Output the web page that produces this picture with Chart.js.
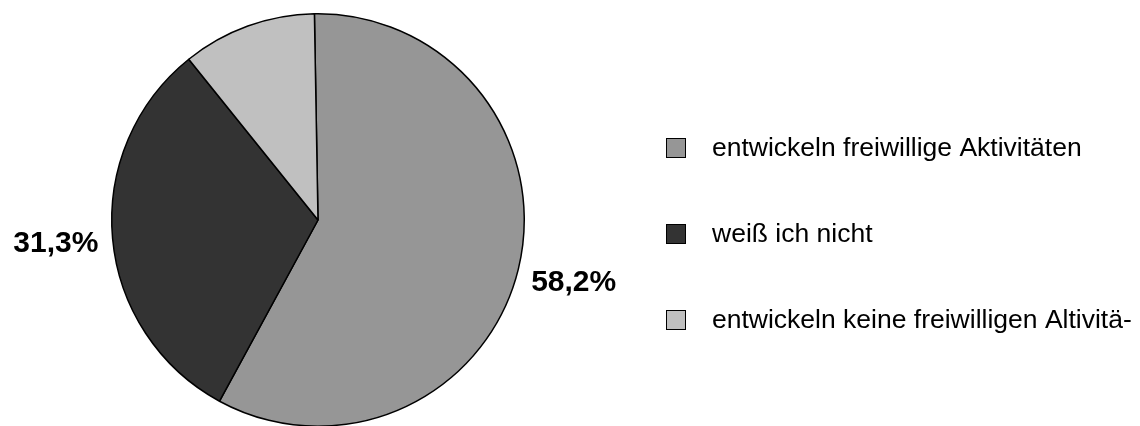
<!DOCTYPE html>
<html lang="de">
<head>
<meta charset="utf-8">
<title>Freiwillige Aktivitäten</title>
<script src="https://cdn.jsdelivr.net/npm/chart.js@4.4.1/dist/chart.umd.min.js"></script>
<style>
    html, body { margin: 0; padding: 0; background: #ffffff; overflow: hidden; }
    #wrap { position: relative; width: 1140px; height: 428px; }
</style>
</head>
<body>
<div id="wrap"><canvas id="pieChart" width="1140" height="428"></canvas></div>
<script>
// Chart data
const categories = ['entwickeln freiwillige Aktivitäten', 'weiß ich nicht', 'entwickeln keine freiwilligen Altivitä-'];
const shares = [58.2, 31.3, 10.5];
const shareLabels = ['58,2%', '31,3%', ''];
const sliceColors = ['#969696', '#333333', '#c0c0c0'];

/**
 * Draw percentage labels outside the slices
 */
const outsideLabels = {
    id: 'outsideLabels',
    afterDatasetsDraw(chart) {
        const ctx = chart.ctx;
        const arcs = chart.getDatasetMeta(0).data;
        ctx.save();
        ctx.font = 'bold 30px "Liberation Sans", Arial, sans-serif';
        ctx.fillStyle = '#000000';
        ctx.textAlign = 'center';
        ctx.textBaseline = 'middle';
        arcs.forEach((arc, i) => {
            if (!shareLabels[i]) return;
            const mid = (arc.startAngle + arc.endAngle) / 2;
            const r = arc.outerRadius + 57;
            ctx.fillText(shareLabels[i], arc.x + Math.cos(mid) * r, arc.y + Math.sin(mid) * r);
        });
        ctx.restore();
    }
};

/**
 * Draw the legend to the right of the pie
 */
const sideLegend = {
    id: 'sideLegend',
    afterDraw(chart) {
        const ctx = chart.ctx;
        const boxX = 666, boxSize = 20, textX = 712;
        const firstY = 148, rowGap = 86;
        ctx.save();
        ctx.font = '26.5px "Liberation Sans", Arial, sans-serif';
        ctx.textBaseline = 'middle';
        categories.forEach((name, i) => {
            const y = firstY + i * rowGap;
            ctx.fillStyle = sliceColors[i];
            ctx.fillRect(boxX, y - boxSize / 2, boxSize, boxSize);
            ctx.strokeStyle = '#000000';
            ctx.lineWidth = 1;
            ctx.strokeRect(boxX + 0.5, y - boxSize / 2 + 0.5, boxSize - 1, boxSize - 1);
            ctx.fillStyle = '#000000';
            ctx.fillText(name, textX, y + 1);
        });
        ctx.restore();
    }
};

document.addEventListener('DOMContentLoaded', function() {
    const ctx = document.getElementById('pieChart').getContext('2d');
    new Chart(ctx, {
        type: 'pie',
        data: {
            labels: categories,
            datasets: [{
                data: shares,
                backgroundColor: sliceColors,
                borderColor: '#000000',
                borderWidth: 1.5
            }]
        },
        options: {
            responsive: false,
            animation: false,
            rotation: -1,
            layout: {
                padding: { left: 111, right: 615, top: 13, bottom: 1 }
            },
            plugins: {
                legend: { display: false },
                tooltip: { enabled: false }
            }
        },
        plugins: [outsideLabels, sideLegend]
    });
});
</script>
</body>
</html>
